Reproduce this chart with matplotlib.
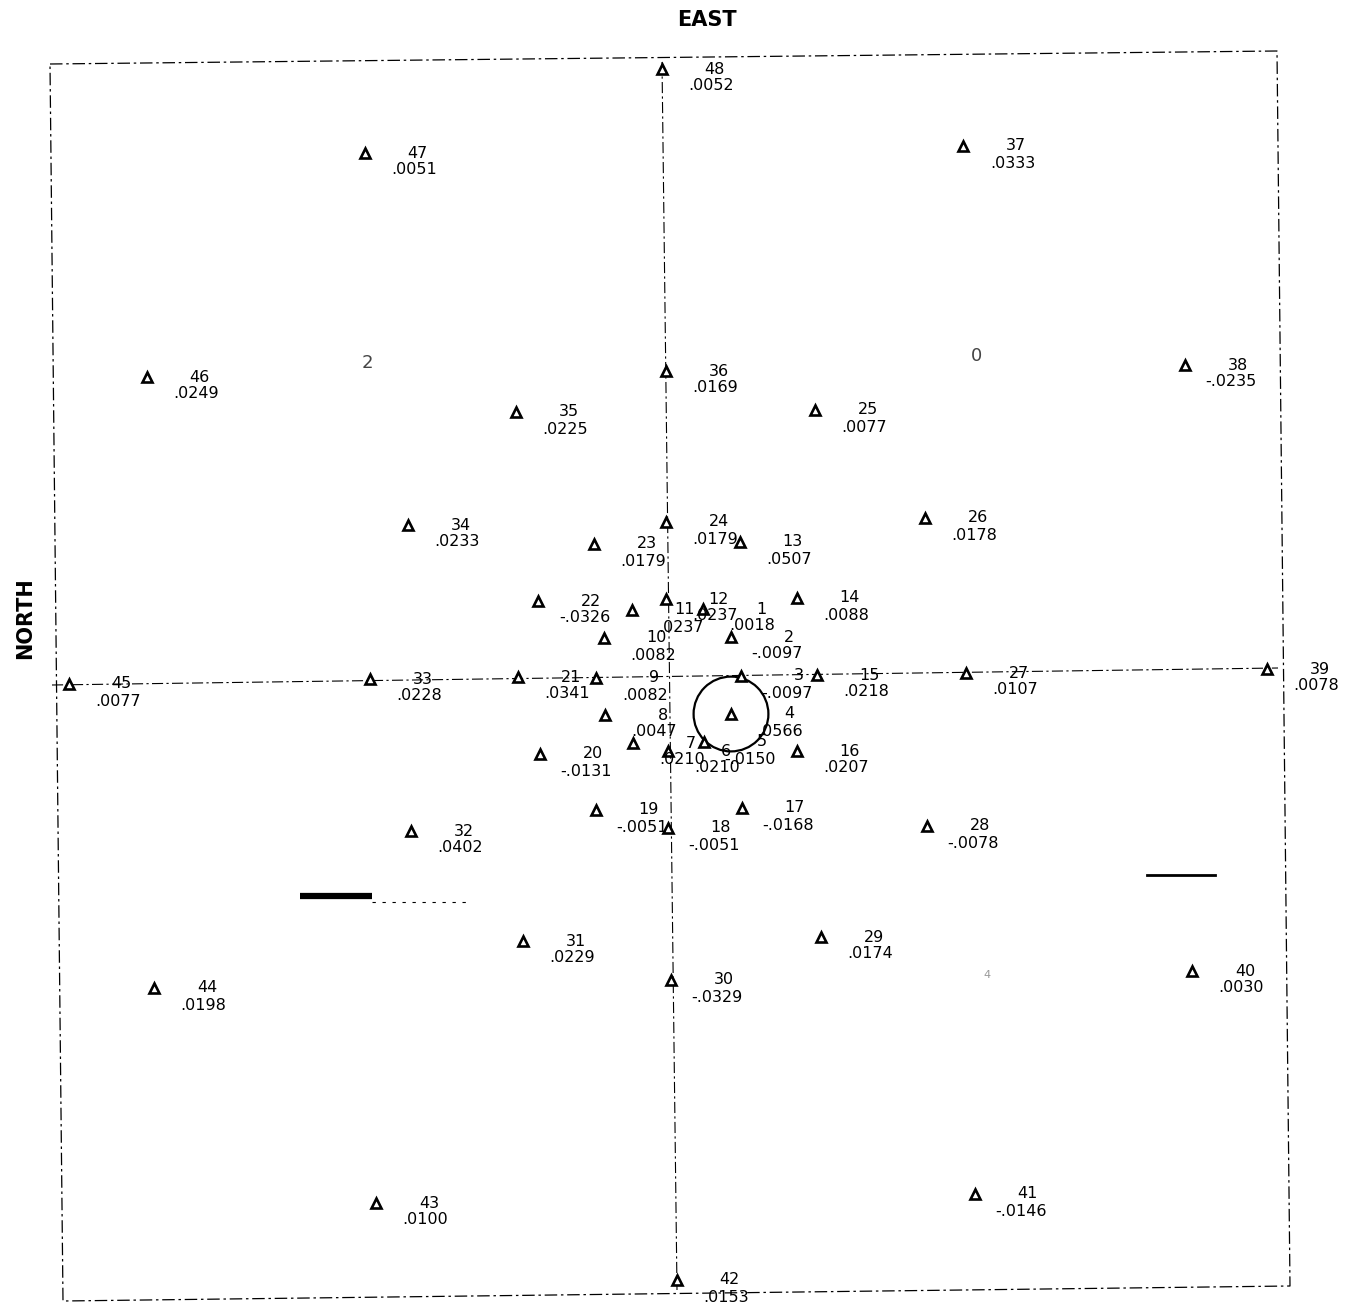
import matplotlib
matplotlib.use("Agg")
import matplotlib.pyplot as plt

# Station numbers, plotted positions (plot units, y grows downward) and values
stations = [1, 2, 3, 4, 5, 6, 7, 8, 9, 10, 11, 12, 13, 14, 15, 16,
            17, 18, 19, 20, 21, 22, 23, 24, 25, 26, 27, 28, 29, 30, 31, 32,
            33, 34, 35, 36, 37, 38, 39, 40, 41, 42, 43, 44, 45, 46, 47, 48]
east = [703, 731, 741, 731, 704, 668, 633, 605, 596, 604, 632, 666,
        740, 797, 817, 797, 742, 668, 596, 540, 518, 538, 594, 666,
        815, 925, 966, 927, 821, 671, 523, 411, 370, 408, 516, 666,
        963, 1185, 1267, 1192, 975, 677, 376, 154, 69, 147, 365, 662]
north = [609, 637, 676, 714, 742, 751, 743, 715, 678, 638, 610, 599,
         542, 598, 675, 751, 808, 828, 810, 754, 677, 601, 544, 522,
         410, 518, 673, 826, 937, 980, 941, 831, 679, 525, 412, 371,
         146, 365, 669, 971, 1194, 1280, 1203, 988, 684, 377, 153, 69]
values = [0.0018, -0.0097, -0.0097, 0.0566, -0.0150, 0.0210, 0.0210, 0.0047,
          0.0082, 0.0082, 0.0237, 0.0237, 0.0507, 0.0088, 0.0218, 0.0207,
          -0.0168, -0.0051, -0.0051, -0.0131, 0.0341, -0.0326, 0.0179, 0.0179,
          0.0077, 0.0178, 0.0107, -0.0078, 0.0174, -0.0329, 0.0229, 0.0402,
          0.0228, 0.0233, 0.0225, 0.0169, 0.0333, -0.0235, 0.0078, 0.0030,
          -0.0146, 0.0153, 0.0100, 0.0198, 0.0077, 0.0249, 0.0051, 0.0052]

# Map frame corners and the two reference lines
frame_x = [50, 1277, 1290, 63, 50]
frame_y = [64, 51, 1286, 1301, 64]
ns_line = ([662, 677], [62, 1290])
ew_line = ([52, 1278], [685, 668])
circled_station = 4

FONT = "DejaVu Sans"


def fmt(v):
    s = f"{v:.4f}"
    return s.replace("0.", ".", 1)


fig = plt.figure(figsize=(13.55, 13.07), dpi=100)
ax = fig.add_axes([0, 0, 1, 1])
ax.set_xlim(0, 1355)
ax.set_ylim(1307, 0)
ax.axis("off")

dash = (0, (10, 3, 2, 3))
ax.plot(frame_x, frame_y, color="black", lw=0.9, linestyle=dash)
ax.plot(*ns_line, color="black", lw=0.8, linestyle=dash)
ax.plot(*ew_line, color="black", lw=0.8, linestyle=dash)

ax.plot(east, north, linestyle="none", marker="^", ms=7.5,
        mfc="white", mec="black", mew=1.9, zorder=3)

for sid, x, y, v in zip(stations, east, north, values):
    ax.annotate(str(sid), (x, y), xytext=(63, 0), textcoords="offset pixels",
                ha="right", va="center", fontsize=11.5, family=FONT, zorder=4)
    ax.annotate(fmt(v), (x, y), xytext=(72, -17), textcoords="offset pixels",
                ha="right", va="center", fontsize=11.5, family=FONT, zorder=4)

# Ring around the largest value
i = stations.index(circled_station)
ax.scatter([east[i]], [north[i]], s=2900, facecolors="none",
           edgecolors="black", linewidths=1.6, zorder=2)

# Stray marks on the sheet
ax.plot([300, 372], [896, 896], color="black", lw=4.5, solid_capstyle="butt")
ax.plot([372, 470], [902, 902], color="black", lw=0.8, linestyle=(0, (3, 6)))
ax.plot([1147, 1215], [875, 875], color="black", lw=2)
ax.text(367, 363, "2", fontsize=13, family=FONT, color="#444444",
        ha="center", va="center")
ax.text(977, 356, "0", fontsize=13, family=FONT, color="#444444",
        ha="center", va="center")
ax.text(987, 975, "4", fontsize=8, family=FONT, color="#999999",
        ha="center", va="center")

fig.text(707 / 1355, 1 - 20 / 1307, "EAST", fontsize=15, family=FONT,
         weight="bold", ha="center", va="center")
fig.text(25 / 1355, 1 - 618 / 1307, "NORTH", fontsize=15, family=FONT,
         weight="bold", ha="center", va="center", rotation=90)

fig.savefig("out.png", dpi=100, facecolor="white")
